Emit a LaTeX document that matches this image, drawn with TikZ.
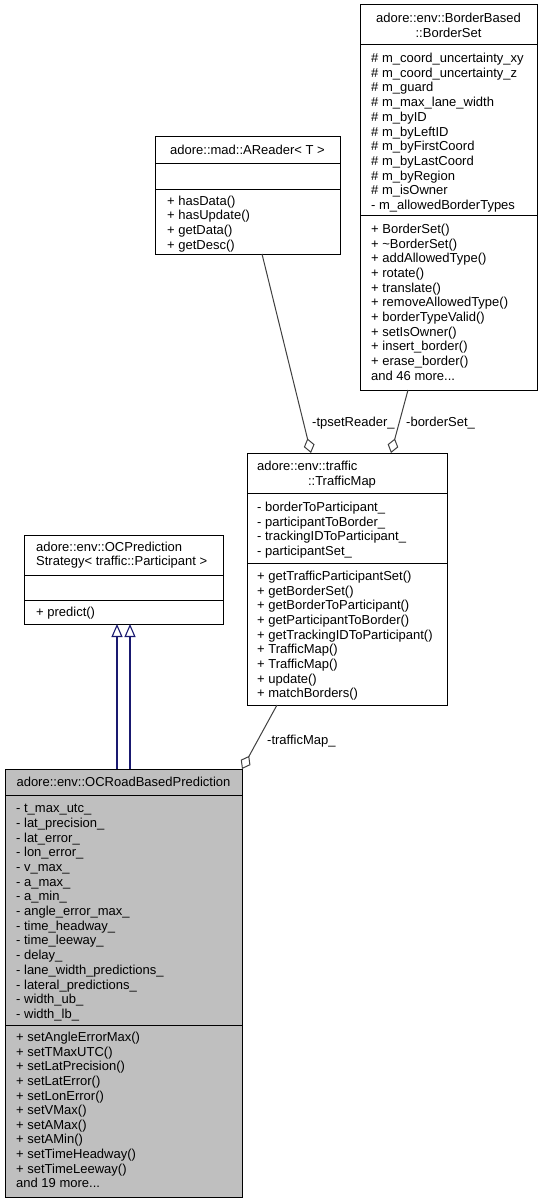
\documentclass[tikz,border=0pt]{standalone}
\usepackage{fontspec}
\setmainfont{Liberation Sans}
\usetikzlibrary{arrows.meta}
\definecolor{edgegray}{HTML}{404040}
\definecolor{inhblue}{HTML}{191970}
\definecolor{boxgray}{HTML}{BFBFBF}
\newcommand{\cfs}{\fontsize{13}{14.7}\selectfont}
\begin{document}
\begin{tikzpicture}[x=1pt,y=-1pt,
  cls/.style={draw=black, line width=1pt, inner sep=0pt, outer sep=0pt, anchor=north west},
  txt/.style={font=\cfs, inner sep=0pt, anchor=base west, text=black},
  ctxt/.style={font=\cfs, inner sep=0pt, anchor=base, text=black},
  div/.style={draw=black, line width=1pt},
  agg/.style={draw=edgegray, line width=1pt, -{Diamond[open, length=15pt, width=11pt, line width=1pt]}},
  inh/.style={draw=inhblue, line width=1.1pt, -{Triangle[open, length=13pt, width=11pt, line width=1.1pt]}},
  lbl/.style={font=\cfs, inner sep=0pt, anchor=base west, text=black}]
\useasboundingbox (0,0) rectangle (541,1204);
\fill[white] (0,0) rectangle (541,1204);

% ---------- BorderSet ----------
\node[cls, fill=white, minimum width=177pt, minimum height=385pt] (bs) at (360,5) {};
\node[ctxt] (bsT1) at (448.5,22.6) {adore::env::BorderBased};
\node[ctxt] (bsT2) at (448.5,37.6) {::BorderSet};
\draw[div] (bs.west |- 0,45) -- (bs.east |- 0,45);
\foreach \t [count=\i from 0] in {\# m\_coord\_uncertainty\_xy, \# m\_coord\_uncertainty\_z, \# m\_guard, \# m\_max\_lane\_width, \# m\_byID, \# m\_byLeftID, \# m\_byFirstCoord, \# m\_byLastCoord, \# m\_byRegion, \# m\_isOwner, - m\_allowedBorderTypes}
  \node[txt] (bsA\i) at (371,{58+14.7*\i+4.6}) {\t};
\draw[div] (bs.west |- 0,215) -- (bs.east |- 0,215);
\foreach \t [count=\i from 0] in {+ BorderSet(), + \textasciitilde BorderSet(), + addAllowedType(), + rotate(), + translate(), + removeAllowedType(), + borderTypeValid(), + setIsOwner(), + insert\_border(), + erase\_border()}
  \node[txt] (bsM\i) at (371,{229+14.65*\i+4.6}) {\t};
\node[txt] (bsMore) at (371,{229+14.65*10+4.6}) {and 46 more...};

% ---------- AReader ----------
\node[cls, fill=white, minimum width=185pt, minimum height=117pt] (ar) at (155,137) {};
\node[ctxt] (arT) at (247.5,154.6) {adore::mad::AReader< T >};
\draw[div] (ar.west |- 0,163) -- (ar.east |- 0,163);
\draw[div] (ar.west |- 0,189) -- (ar.east |- 0,189);
\foreach \t [count=\i from 0] in {+ hasData(), + hasUpdate(), + getData(), + getDesc()}
  \node[txt] (arM\i) at (167,{200.5+14.65*\i+4.6}) {\t};

% ---------- TrafficMap ----------
\node[cls, fill=white, minimum width=200pt, minimum height=252pt] (tm) at (247,453) {};
\node[txt] (tmT1) at (257,470.6) {adore::env::traffic};
\node[ctxt] (tmT2) at (342,485.6) {::TrafficMap};
\draw[div] (tm.west |- 0,493) -- (tm.east |- 0,493);
\foreach \t [count=\i from 0] in {- borderToParticipant\_, - participantToBorder\_, - trackingIDToParticipant\_, - participantSet\_}
  \node[txt] (tmA\i) at (257,{507+14.65*\i+4.6}) {\t};
\draw[div] (tm.west |- 0,563) -- (tm.east |- 0,563);
\foreach \t [count=\i from 0] in {+ getTrafficParticipantSet(), + getBorderSet(), + getBorderToParticipant(), + getParticipantToBorder(), + getTrackingIDToParticipant(), + TrafficMap(), + TrafficMap(), + update(), + matchBorders()}
  \node[txt] (tmM\i) at (257,{576+14.65*\i+4.6}) {\t};

% ---------- OCPredictionStrategy ----------
\node[cls, fill=white, minimum width=199pt, minimum height=89pt] (ocp) at (24,535) {};
\node[txt] (ocpT1) at (36,551.6) {adore::env::OCPrediction};
\node[txt] (ocpT2) at (36,565.6) {Strategy< traffic::Participant >};
\draw[div] (ocp.west |- 0,575) -- (ocp.east |- 0,575);
\draw[div] (ocp.west |- 0,600) -- (ocp.east |- 0,600);
\node[txt] (ocpM0) at (36,616.6) {+ predict()};

% ---------- OCRoadBasedPrediction ----------
\node[cls, fill=boxgray, minimum width=237pt, minimum height=428pt] (ocr) at (5,769) {};
\node[ctxt] (ocrT) at (123.5,786.6) {adore::env::OCRoadBasedPrediction};
\draw[div] (ocr.west |- 0,795) -- (ocr.east |- 0,795);
\foreach \t [count=\i from 0] in {- t\_max\_utc\_, - lat\_precision\_, - lat\_error\_, - lon\_error\_, - v\_max\_, - a\_max\_, - a\_min\_, - angle\_error\_max\_, - time\_headway\_, - time\_leeway\_, - delay\_, - lane\_width\_predictions\_, - lateral\_predictions\_, - width\_ub\_, - width\_lb\_}
  \node[txt] (ocrA\i) at (16,{808+14.7*\i+4.6}) {\t};
\draw[div] (ocr.west |- 0,1025) -- (ocr.east |- 0,1025);
\foreach \t [count=\i from 0] in {+ setAngleErrorMax(), + setTMaxUTC(), + setLatPrecision(), + setLatError(), + setLonError(), + setVMax(), + setAMax(), + setAMin(), + setTimeHeadway(), + setTimeLeeway()}
  \node[txt] (ocrM\i) at (16,{1037+14.6*\i+4.6}) {\t};
\node[txt] (ocrMore) at (16,{1037+14.6*10+4.6}) {and 19 more...};

% ---------- connectors ----------
\draw[inh] ([xshift=-6.5pt]ocr.north) -- ([xshift=-6.5pt]ocp.south);
\draw[inh] ([xshift=6.5pt]ocr.north) -- ([xshift=6.5pt]ocp.south);

\draw[agg] ([xshift=14.5pt]ar.south) -- ([xshift=-36pt]tm.north);
\draw[agg] ([xshift=-40.5pt]bs.south) -- ([xshift=44pt]tm.north);
\draw[agg] ([xshift=-70pt]tm.south) -- (ocr.north east);

\node[lbl] (l1) at (312,426.6) {-tpsetReader\_};
\node[lbl] (l2) at (406,426.6) {-borderSet\_};
\node[lbl] (l3) at (267,744.6) {-trafficMap\_};
\end{tikzpicture}
\end{document}
